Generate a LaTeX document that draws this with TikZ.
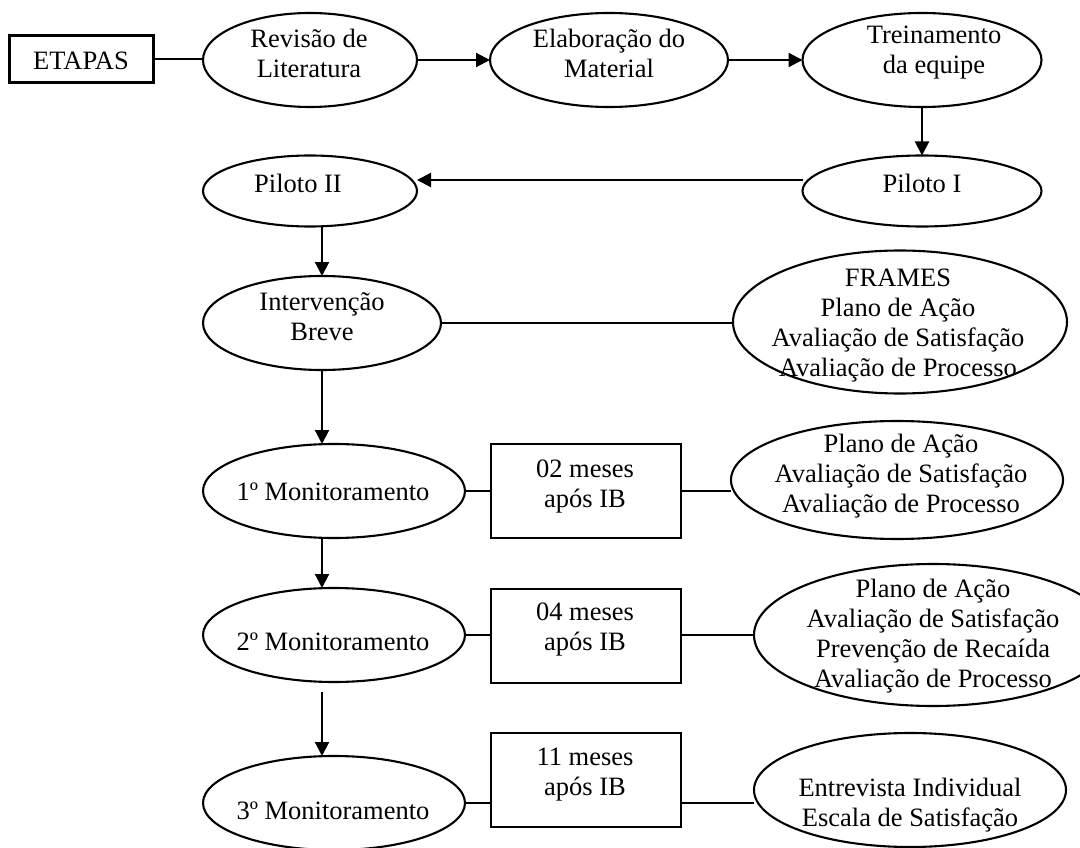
\documentclass[tikz,border=0pt]{standalone}
\usepackage{fontspec}
\setmainfont{Liberation Serif}
\usetikzlibrary{arrows.meta,shapes.geometric,calc}
\begin{document}
\begin{tikzpicture}[x=1pt,y=-1pt,
  every node/.style={inner sep=0pt,outer sep=0pt},
  ell/.style={draw,ellipse,line width=2.1pt,inner sep=0pt},
  boxn/.style={draw,rectangle,line width=2.1pt},
  txt/.style={align=center,font=\fontsize{26.5}{30}\selectfont},
  conn/.style={line width=2.1pt},
  arr/.style={line width=2.1pt,-{Triangle[length=14pt,width=14pt]}}]
\useasboundingbox (0,0) rectangle (1080,848);
\clip (0,0) rectangle (1080,848);

% shapes
\node[boxn,minimum width=144pt,minimum height=47pt] (etapas) at (81.5,59) {};
\node[ell,minimum width=214pt,minimum height=94pt] (rev) at (310,60) {};
\node[ell,minimum width=238pt,minimum height=94pt] (ela) at (609,60) {};
\node[ell,minimum width=239pt,minimum height=94pt] (tre) at (922,60) {};
\node[ell,minimum width=239pt,minimum height=71pt] (p1) at (922,191) {};
\node[ell,minimum width=214pt,minimum height=71pt] (p2) at (310,191) {};
\node[ell,minimum width=238pt,minimum height=94pt] (int) at (322,323) {};
\node[ell,minimum width=334pt,minimum height=143pt] (frames) at (900,322) {};
\node[ell,minimum width=262pt,minimum height=94pt] (m1) at (334,491) {};
\node[boxn,minimum width=190pt,minimum height=94pt] (b1) at (586,491) {};
\node[ell,minimum width=332pt,minimum height=118pt] (e1) at (897,480) {};
\node[ell,minimum width=262pt,minimum height=94pt] (m2) at (334,635) {};
\node[boxn,minimum width=190pt,minimum height=94pt] (b2) at (586,636) {};
\node[ell,minimum width=358pt,minimum height=142pt] (e2) at (933,635) {};
\node[ell,minimum width=262pt,minimum height=94pt] (m3) at (334,803) {};
\node[boxn,minimum width=190pt,minimum height=94pt] (b3) at (586,780) {};
\node[ell,minimum width=312pt,minimum height=114pt] (e3) at (910,790) {};

% texts
\node[txt] (tetapas) at (81,61) {ETAPAS};
\node[txt] (trev) at (309,53) {Revisão de\\Literatura};
\node[txt] (tela) at (609,53) {Elaboração do\\Material};
\node[txt] (ttre) at (934,53) {Treinamento\\da equipe};
\node[txt] (tp1) at (922,183) {Piloto I};
\node[txt] (tp2) at (298,183) {Piloto II};
\node[txt] (tint) at (322,317) {Intervenção\\Breve};
\node[txt] (tframes) at (898,326) {FRAMES\\Plano de Ação\\Avaliação de Satisfação\\Avaliação de Processo};
\node[txt] (tm1) at (333,492) {1º Monitoramento};
\node[txt] (tb1) at (585,487) {02 meses\\após IB};
\node[txt] (te1) at (901,476) {Plano de Ação\\Avaliação de Satisfação\\Avaliação de Processo};
\node[txt] (tm2) at (333,642) {2º Monitoramento};
\node[txt] (tb2) at (585,630) {04 meses\\após IB};
\node[txt] (te2) at (933,636) {Plano de Ação\\Avaliação de Satisfação\\Prevenção de Recaída\\Avaliação de Processo};
\node[txt] (tm3) at (333,811) {3º Monitoramento};
\node[txt] (tb3) at (585,775) {11 meses\\após IB};
\node[txt] (te3) at (910,805) {Entrevista Individual\\Escala de Satisfação};

% connectors
\draw[conn] (etapas.east) -- (etapas.east -| rev.west);
\draw[arr] (rev.east) -- (ela.west);
\draw[arr] (ela.east) -- (tre.west);
\draw[arr] (tre.south) -- (p1.north);
\draw[arr] ([yshift=11pt]p1.west) -- ([yshift=11pt]p1.west -| p2.east);
\draw[arr] (p2.south -| int.north) -- (int.north);
\draw[conn] (int.east) -- (int.east -| frames.west);
\draw[arr] (int.south) -- (int.south |- m1.north);
\draw[conn] (m1.east) -- (b1.west);
\draw[conn] (b1.east) -- (b1.east -| e1.west);
\draw[arr] (m1.south -| int.south) -- (m2.north -| int.south);
\draw[conn] (m2.east) -- (m2.east -| b2.west);
\draw[conn] (m2.east -| b2.east) -- (m2.east -| e2.west);
\draw[arr] ([yshift=-10pt]m2.south -| int.south) -- (m3.north -| int.south);
\draw[conn] (m3.east) -- (m3.east -| b3.west);
\draw[conn] (m3.east -| b3.east) -- (m3.east -| e3.west);
\end{tikzpicture}
\end{document}
